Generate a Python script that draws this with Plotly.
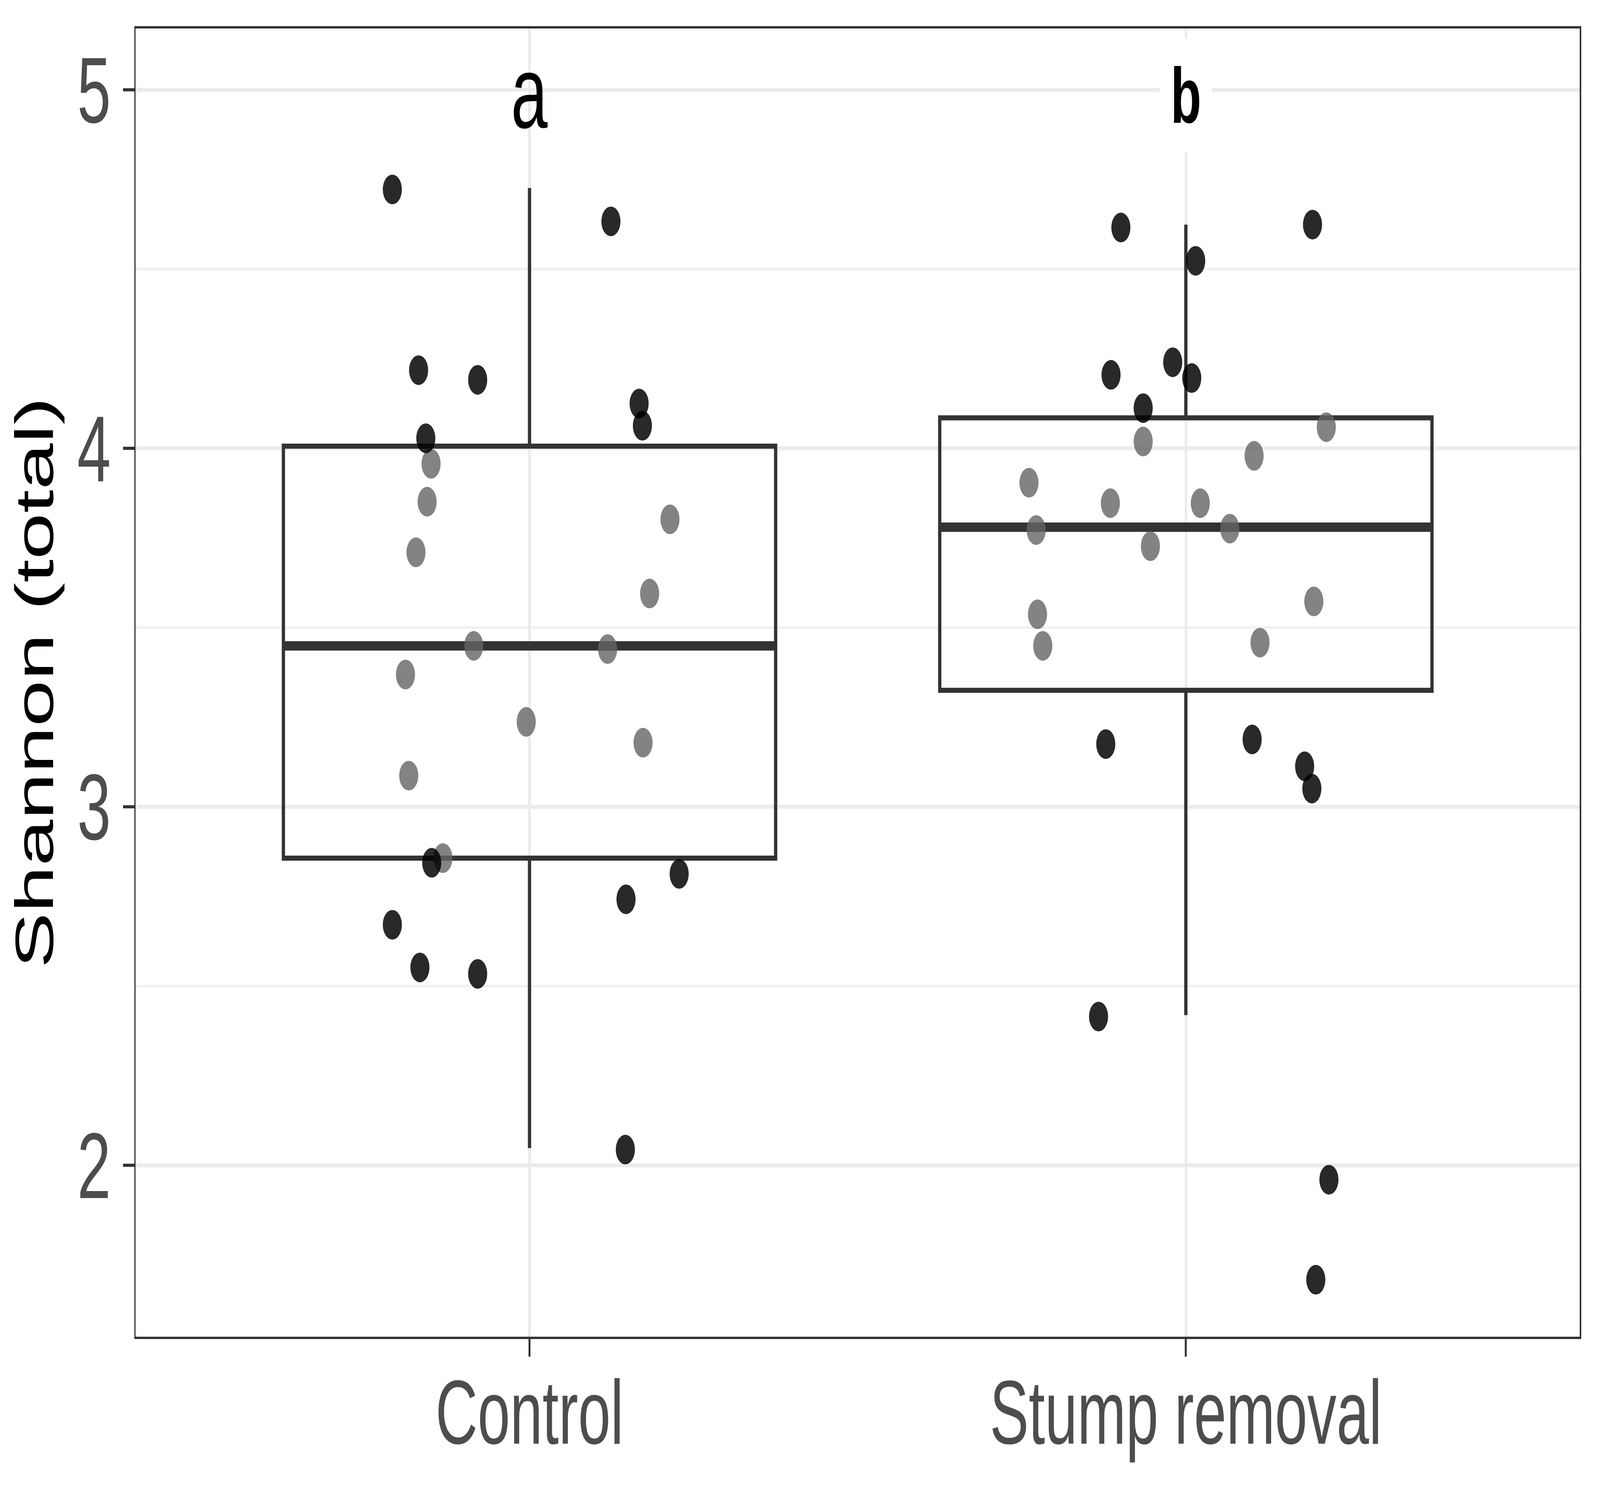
import plotly.graph_objects as go

# ---------------- data ----------------
categories = ["Control", "Stump removal"]
positions = [1, 2]

# box statistics
q1 = [2.857, 3.325]
median = [3.449, 3.780]
q3 = [4.006, 4.085]
lowerfence = [2.048, 2.419]
upperfence = [4.726, 4.624]

# jittered observations (value, horizontal jitter offset)
ctrl_dark_y = [4.722, 4.633, 4.218, 4.191, 4.028, 4.125, 4.063, 2.844, 2.813, 2.742, 2.671, 2.552, 2.534, 2.044]
ctrl_dark_dx = [-0.209, 0.124, -0.169, -0.079, -0.158, 0.167, 0.172, -0.149, 0.228, 0.147, -0.209, -0.167, -0.079, 0.146]
ctrl_gray_y = [3.957, 3.851, 3.710, 3.802, 3.595, 3.449, 3.440, 3.369, 3.237, 3.179, 3.087, 2.857]
ctrl_gray_dx = [-0.150, -0.156, -0.173, 0.214, 0.183, -0.085, 0.119, -0.189, -0.005, 0.173, -0.184, -0.132]

st_dark_y = [4.616, 4.624, 4.523, 4.205, 4.240, 4.196, 4.112, 3.175, 3.188, 3.113, 3.051, 2.415, 1.960, 1.681]
st_dark_dx = [-0.099, 0.193, 0.015, -0.114, -0.020, 0.009, -0.065, -0.122, 0.101, 0.181, 0.192, -0.133, 0.218, 0.198]
st_gray_y = [4.019, 4.059, 3.979, 3.904, 3.772, 3.847, 3.847, 3.727, 3.776, 3.537, 3.449, 3.573, 3.458]
st_gray_dx = [-0.065, 0.214, 0.104, -0.239, -0.228, -0.115, 0.022, -0.054, 0.067, -0.226, -0.218, 0.195, 0.113]

letters = ["a", "b"]
letter_y = [4.993, 4.984]

y_ticks = [2, 3, 4, 5]

# ---------------- figure ----------------
W, H = 6366, 3813
FONT = "Liberation Sans, Arial, sans-serif"
LINE = "#333333"
BOX_HALF = 0.375

fig = go.Figure()

fig.add_trace(go.Box(
    x=positions, q1=q1, median=median, q3=q3,
    lowerfence=lowerfence, upperfence=upperfence,
    width=2 * BOX_HALF, whiskerwidth=0, boxpoints=False,
    fillcolor="rgba(0,0,0,0)", line=dict(color=LINE, width=13),
    showlegend=False, hoverinfo="skip",
))

# thicker median bar (ggplot fatten)
mx, my = [], []
for p, m in zip(positions, median):
    mx += [p - BOX_HALF, p + BOX_HALF, None]
    my += [m, m, None]
fig.add_trace(go.Scatter(x=mx, y=my, mode="lines",
                         line=dict(color=LINE, width=24),
                         showlegend=False, hoverinfo="skip"))

dark = "rgba(0,0,0,0.84)"
gray = "rgba(100,100,100,0.8)"
groups = [
    (positions[0], ctrl_gray_y, ctrl_gray_dx, gray),
    (positions[0], ctrl_dark_y, ctrl_dark_dx, dark),
    (positions[1], st_gray_y, st_gray_dx, gray),
    (positions[1], st_dark_y, st_dark_dx, dark),
]
for p, ys, dxs, col in groups:
    fig.add_trace(go.Scatter(
        x=[p + d for d in dxs], y=ys, mode="markers",
        marker=dict(color=col, size=76, line=dict(width=0)),
        showlegend=False, hoverinfo="skip",
    ))

fig.add_annotation(x=positions[0], y=letter_y[0], text=letters[0], showarrow=False,
                   font=dict(family=FONT, size=262, color="black"),
                   xanchor="center", yanchor="middle")
fig.add_annotation(x=positions[1], y=letter_y[1], text="<b>" + letters[1] + "</b>", showarrow=False,
                   font=dict(family=FONT, size=200, color="black"),
                   bgcolor="white", width=207, height=290, borderpad=0,
                   xanchor="center", yanchor="middle")

fig.update_layout(
    width=W, height=H,
    margin=dict(l=540, r=81, t=73, b=390, autoexpand=False),
    paper_bgcolor="white", plot_bgcolor="white",
    font=dict(family=FONT),
)
fig.update_xaxes(
    range=[0.4, 2.6], tickmode="array", tickvals=positions, ticktext=categories,
    showgrid=True, gridcolor="#ebebeb", gridwidth=10, zeroline=False,
    showline=True, mirror=True, linecolor=LINE, linewidth=6,
    ticks="outside", ticklen=45, tickwidth=8, tickcolor=LINE,
    tickfont=dict(family=FONT, size=232, color="#4d4d4d"),
    ticklabelstandoff=-55,
)
fig.update_yaxes(
    range=[1.522, 5.171], tickmode="array", tickvals=y_ticks,
    showgrid=True, gridcolor="#ebebeb", gridwidth=10, zeroline=False,
    minor=dict(tickmode="array", tickvals=[2.5, 3.5, 4.5], showgrid=True,
               gridcolor="#f0f0f0", gridwidth=6, ticks=""),
    showline=True, mirror=True, linecolor=LINE, linewidth=6,
    ticks="outside", ticklen=45, tickwidth=8, tickcolor=LINE,
    tickfont=dict(family=FONT, size=240, color="#4d4d4d"),
    title=dict(text="Shannon (total)", font=dict(family=FONT, size=214, color="black"), standoff=25),
)

# fit the fixed-size figure exactly into whatever window it is opened in
post = """
var gd = document.getElementById('{plot_id}');
var W = %d, H = %d;
var vw = window.innerWidth || W, vh = window.innerHeight || H;
var sx = vw / W, sy = vh / H;
var outer = gd.parentNode;
var wrap = document.createElement('div');
wrap.style.width = vw + 'px';
wrap.style.height = vh + 'px';
wrap.style.overflow = 'hidden';
wrap.style.position = 'relative';
outer.parentNode.insertBefore(wrap, outer);
wrap.appendChild(outer);
outer.style.transform = 'scale(' + sx + ',' + sy + ')';
outer.style.transformOrigin = '0 0';
document.body.style.margin = '0';
document.body.style.overflow = 'hidden';
document.documentElement.style.overflow = 'hidden';
""" % (W, H)

fig.write_html("out.html", post_script=post, config={"displayModeBar": False})
